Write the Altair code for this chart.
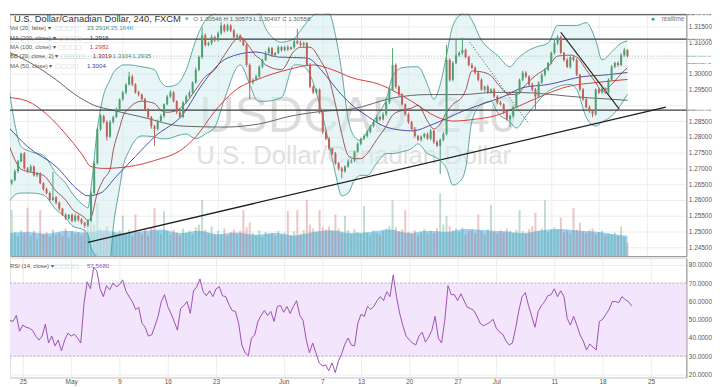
import altair as alt
import pandas as pd

FONT = "Liberation Sans"

# ---------------- data (8-hour candles, bar 0 = Apr 25) ----------------
first_bar = -6
first_open = 1.2645
closes = [
    1.2653, 1.2663, 1.2691, 1.2722, 1.2747, 1.2700,
    1.2691, 1.2706, 1.2678, 1.2684, 1.2653, 1.2634, 1.2622, 1.2600, 1.2609, 1.2591,
    1.2572, 1.2553, 1.2541, 1.2553, 1.2534, 1.2550, 1.2538, 1.2528, 1.2519, 1.2534,
    1.2622, 1.2716, 1.2825, 1.2866, 1.2847, 1.2800, 1.2847, 1.2863, 1.2888, 1.2919,
    1.2941, 1.2966, 1.2991, 1.2966, 1.2941, 1.2934, 1.2919, 1.2888, 1.2863, 1.2834,
    1.2825, 1.2850, 1.2866, 1.2903, 1.2928, 1.2941, 1.2913, 1.2878, 1.2863, 1.2909,
    1.2928, 1.2941, 1.2972, 1.3013, 1.3053, 1.3122, 1.3091, 1.3097, 1.3116, 1.3106,
    1.3128, 1.3153, 1.3137, 1.3153, 1.3137, 1.3116, 1.3122, 1.3106, 1.3091, 1.3028,
    1.2972, 1.2981, 1.2991, 1.3022, 1.3044, 1.3066, 1.3081, 1.3059, 1.3066, 1.3084,
    1.3075, 1.3084, 1.3078, 1.3084, 1.3103, 1.3097, 1.3091, 1.3097, 1.3028, 1.2959,
    1.2941, 1.2950, 1.2878, 1.2816, 1.2794, 1.2763, 1.2747, 1.2716, 1.2700, 1.2691,
    1.2706, 1.2722, 1.2725, 1.2753, 1.2778, 1.2794, 1.2803, 1.2816, 1.2834, 1.2847,
    1.2863, 1.2856, 1.2872, 1.2909, 1.2950, 1.3028, 1.2959, 1.2934, 1.2903, 1.2872,
    1.2847, 1.2825, 1.2803, 1.2791, 1.2800, 1.2809, 1.2794, 1.2819, 1.2784, 1.2772,
    1.2791, 1.2809, 1.3044, 1.2981, 1.3034, 1.3059, 1.3066, 1.3075, 1.3053, 1.3028,
    1.3019, 1.3003, 1.2981, 1.2950, 1.2959, 1.2941, 1.2950, 1.2928, 1.2909, 1.2903,
    1.2878, 1.2856, 1.2866, 1.2894, 1.2941, 1.2981, 1.3003, 1.2991, 1.2966, 1.2950,
    1.2928, 1.2972, 1.2997, 1.3013, 1.3034, 1.3066, 1.3097, 1.3116, 1.3066, 1.3044,
    1.3022, 1.3053, 1.3044, 1.2997, 1.2950, 1.2919, 1.2894, 1.2881, 1.2872, 1.2950,
    1.2941, 1.2953, 1.2941, 1.2981, 1.3022, 1.3034, 1.3028, 1.3059, 1.3075, 1.30558,
]
up_wick_pips = [
    4, 3, 6, 5, 3, 5,
    4, 6, 3, 5, 4, 3, 5, 4, 80, 3,
    4, 3, 5, 2, 4, 6, 3, 4, 3, 5,
    6, 8, 5, 7, 4, 5, 6, 4, 5, 3,
    5, 4, 15, 6, 4, 5, 3, 5, 4, 3,
    4, 5, 6, 3, 5, 7, 4, 3, 5, 4,
    5, 6, 4, 7, 5, 25, 6, 5, 8, 4,
    6, 10, 5, 6, 4, 5, 6, 3, 5, 4,
    5, 4, 6, 5, 4, 6, 5, 4, 3, 6,
    4, 5, 6, 3, 5, 40, 8, 5, 4, 6,
    5, 4, 3, 5, 4, 6, 3, 5, 4, 5,
    4, 6, 5, 3, 5, 4, 6, 5, 4, 3,
    5, 4, 6, 5, 7, 53, 5, 4, 6, 3,
    5, 4, 6, 3, 5, 4, 5, 6, 3, 5,
    4, 6, 47, 5, 6, 50, 5, 40, 5, 4,
    6, 5, 4, 5, 3, 6, 4, 5, 4, 5,
    3, 5, 4, 6, 5, 4, 7, 5, 4, 6,
    5, 4, 6, 5, 4, 5, 13, 6, 5, 4,
    6, 5, 4, 5, 3, 5, 4, 6, 5, 4,
    5, 6, 4, 5, 6, 4, 5, 6, 7, 3,
]
dn_wick_pips = [
    3, 5, 4, 6, 3, 4,
    5, 3, 4, 6, 3, 5, 4, 6, 3, 5,
    6, 4, 5, 3, 5, 4, 6, 5, 7, 4,
    3, 5, 4, 6, 5, 12, 4, 5, 3, 5,
    4, 6, 3, 5, 4, 6, 5, 4, 6, 8,
    53, 5, 4, 6, 3, 5, 4, 6, 5, 4,
    3, 5, 6, 4, 5, 6, 5, 4, 6, 5,
    4, 5, 6, 3, 5, 4, 6, 5, 4, 6,
    53, 5, 4, 6, 5, 4, 3, 6, 5, 4,
    5, 4, 6, 3, 5, 4, 5, 6, 4, 5,
    6, 4, 5, 7, 4, 6, 5, 4, 6, 22,
    5, 4, 6, 5, 3, 5, 4, 6, 5, 4,
    3, 5, 4, 6, 5, 4, 6, 5, 4, 5,
    6, 4, 5, 4, 6, 5, 4, 5, 6, 4,
    90, 5, 4, 6, 5, 4, 5, 6, 4, 5,
    4, 6, 5, 4, 6, 5, 4, 5, 6, 4,
    5, 4, 25, 5, 4, 6, 5, 4, 5, 6,
    45, 5, 4, 6, 5, 4, 5, 6, 4, 5,
    4, 6, 5, 4, 6, 5, 4, 5, 10, 6,
    5, 4, 6, 5, 4, 5, 6, 4, 5, 4,
]
volume_k = [
    38, 80, 42, 35, 45, 40,
    84, 36, 44, 30, 80, 38, 42, 33, 46, 37,
    40, 35, 48, 32, 44, 38, 41, 36, 47, 52,
    60, 55, 92, 48, 40, 52, 38, 44, 36, 45,
    70, 40, 46, 35, 72, 42, 38, 47, 36, 50,
    84, 43, 39, 78, 44, 37, 46, 41, 35, 48,
    40, 45, 38, 50, 55, 97, 46, 40, 52, 37,
    44, 39, 48, 35, 42, 46, 38, 44, 80, 50,
    58, 40, 36, 45, 33, 42, 38, 40, 35, 44,
    37, 41, 78, 36, 43, 80, 39, 45, 97, 55,
    48, 42, 80, 50, 46, 52, 44, 72, 48, 40,
    70, 45, 38, 47, 42, 39, 87, 41, 36, 45,
    40, 37, 44, 48, 52, 97, 50, 43, 46, 80,
    42, 38, 45, 36, 41, 47, 39, 44, 40, 48,
    109, 55, 70, 52, 45, 48, 42, 50, 38, 44,
    46, 40, 72, 43, 38, 47, 89, 42, 39, 45,
    41, 48, 44, 40, 46, 80, 43, 39, 47, 52,
    75, 44, 48, 97, 42, 46, 50, 45, 67, 41,
    44, 39, 84, 46, 58, 43, 40, 45, 48, 38,
    42, 44, 36, 40, 38, 41, 35, 51, 33, 23.291,
]
rsi_values = [
    43.7, 46.4, 49.6, 49.0, 52.3, 43.6,
    47.0, 45.8, 45.3, 44.2, 41.0, 38.8, 41.0, 47.5, 37.2, 41.0,
    35.6, 38.8, 32.9, 38.8, 42.6, 41.0, 42.0, 39.9, 37.2, 58.8,
    70.7, 66.9, 78.8, 76.7, 66.9, 62.6, 68.6, 66.4, 70.1, 68.0,
    69.1, 71.8, 65.8, 62.6, 59.9, 55.6, 56.7, 48.0, 45.8, 41.0,
    41.6, 46.4, 51.8, 59.9, 63.7, 57.2, 53.4, 49.0, 44.2, 56.1,
    57.7, 59.9, 53.4, 65.8, 68.0, 72.3, 65.3, 63.1, 65.8, 62.6,
    66.9, 68.0, 63.1, 62.6, 58.3, 55.0, 54.5, 48.0, 36.1, 31.8,
    30.2, 39.9, 41.6, 49.0, 52.3, 55.0, 52.3, 54.5, 49.0, 57.2,
    57.7, 54.0, 57.2, 53.4, 57.2, 60.4, 52.3, 49.6, 38.8, 31.8,
    37.2, 31.8, 26.3, 24.7, 25.2, 22.0, 26.3, 21.0, 27.4, 31.3,
    36.6, 39.9, 36.1, 35.6, 48.0, 52.9, 51.8, 57.2, 55.6, 57.2,
    60.4, 62.6, 60.4, 65.3, 62.6, 74.5, 62.6, 53.4, 46.6, 41.0,
    38.8, 37.2, 36.1, 41.0, 43.1, 37.7, 40.4, 44.2, 51.8, 39.9,
    37.2, 49.6, 68.6, 63.7, 63.7, 60.4, 64.2, 60.4, 56.7, 56.1,
    55.0, 51.8, 48.0, 46.6, 47.5, 48.5, 50.2, 45.3, 43.1, 42.0,
    38.3, 36.1, 37.2, 45.3, 55.0, 62.6, 64.8, 57.7, 51.8, 45.8,
    54.5, 57.7, 59.9, 63.1, 63.7, 66.9, 62.6, 65.8, 62.6, 50.7,
    47.0, 51.8, 47.0, 41.6, 38.3, 33.4, 36.6, 35.0, 33.4, 49.0,
    50.2, 52.9, 55.6, 59.9, 59.9, 59.3, 62.6, 61.0, 59.9, 57.568,
]

# Bollinger Bands (20, close, 2), read at selected bars
bb_bars = [-6, -4, -2, 1, 5, 9, 12, 14, 18, 19, 20, 22, 24, 26, 27, 29, 30, 32, 36, 40,
           42, 44, 47, 50, 53, 56, 59, 62, 67, 70, 72, 73, 75, 80, 84, 86, 89, 92, 95, 97,
           99, 101, 103, 105, 107, 110, 113, 115, 118, 121, 123, 126, 128, 130, 132, 134, 137, 138, 140, 143,
           146, 148, 152, 154, 157, 160, 164, 167, 171, 173, 176, 179, 181, 184, 187, 189]
bb_upper = [1.2966, 1.2841, 1.2769, 1.2753, 1.2741, 1.2684, 1.2653, 1.2622, 1.2581, 1.2575,
            1.2638, 1.2825, 1.2934, 1.2981, 1.3003, 1.3022, 1.3028, 1.3028, 1.3022, 1.3013,
            1.2975, 1.2959, 1.2966, 1.3013, 1.3106, 1.3169, 1.3191, 1.3203, 1.3206, 1.3200,
            1.3194, 1.3191, 1.3144, 1.3100, 1.3112, 1.3137, 1.3175, 1.3194, 1.3191, 1.3122,
            1.3006, 1.2856, 1.2800, 1.2788, 1.2816, 1.2866, 1.2919, 1.2991, 1.3019, 1.3022,
            1.3022, 1.2966, 1.2919, 1.2966, 1.3059, 1.3153, 1.3191, 1.3194, 1.3169, 1.3106,
            1.3075, 1.3059, 1.3022, 1.3044, 1.3069, 1.3084, 1.3097, 1.3153, 1.3153, 1.3153,
            1.3162, 1.3106, 1.3044, 1.3069, 1.3097, 1.3104]
bb_lower = [1.2591, 1.2616, 1.2622, 1.2622, 1.2616, 1.2569, 1.2544, 1.2519, 1.2503, 1.2491,
            1.2450, 1.2419, 1.2397, 1.2409, 1.2513, 1.2638, 1.2700, 1.2756, 1.2803, 1.2800,
            1.2794, 1.2794, 1.2803, 1.2809, 1.2794, 1.2809, 1.2831, 1.2919, 1.3028, 1.2966,
            1.2919, 1.2913, 1.2913, 1.2925, 1.3028, 1.3028, 1.2997, 1.2903, 1.2778, 1.2684,
            1.2613, 1.2622, 1.2663, 1.2678, 1.2678, 1.2716, 1.2747, 1.2747, 1.2753, 1.2763,
            1.2778, 1.2747, 1.2738, 1.2725, 1.2700, 1.2647, 1.2669, 1.2700, 1.2850, 1.2903,
            1.2913, 1.2878, 1.2847, 1.2828, 1.2866, 1.2903, 1.2944, 1.2959, 1.2966, 1.2950,
            1.2863, 1.2834, 1.2847, 1.2866, 1.2903, 1.2935]
bb_basis = [1.2778, 1.2728, 1.2697, 1.2688, 1.2678, 1.2628, 1.2600, 1.2572, 1.2544, 1.2534,
            1.2544, 1.2622, 1.2666, 1.2697, 1.2756, 1.2828, 1.2863, 1.2891, 1.2913, 1.2906,
            1.2884, 1.2878, 1.2884, 1.2909, 1.2950, 1.2991, 1.3013, 1.3059, 1.3116, 1.3084,
            1.3056, 1.3050, 1.3028, 1.3013, 1.3072, 1.3084, 1.3084, 1.3047, 1.2984, 1.2903,
            1.2809, 1.2741, 1.2731, 1.2731, 1.2747, 1.2791, 1.2834, 1.2869, 1.2884, 1.2891,
            1.2900, 1.2850, 1.2825, 1.2841, 1.2878, 1.2903, 1.2928, 1.2947, 1.3009, 1.3006,
            1.2994, 1.2969, 1.2934, 1.2934, 1.2966, 1.2994, 1.3022, 1.3056, 1.3059, 1.3053,
            1.3013, 1.2972, 1.2944, 1.2966, 1.3000, 1.3019]

ma200_bars = [-6, 1, 9, 15, 21, 27, 36, 49, 62, 73, 83, 93, 102, 116, 126, 137, 147, 154, 175, 189]
ma200_vals = [1.3069, 1.3034, 1.2981, 1.2934, 1.2900, 1.2884, 1.2863, 1.2834, 1.2831, 1.2841,
              1.2866, 1.2881, 1.2888, 1.2925, 1.2934, 1.2934, 1.2941, 1.2941, 1.2925, 1.2916]
ma100_bars = [-6, 0, 6, 12, 17, 20, 24, 32, 40, 49, 53, 59, 65, 74, 82, 90, 96, 102, 111, 121,
              129, 134, 141, 147, 156, 163, 170, 179, 189]
ma100_vals = [1.2925, 1.2913, 1.2872, 1.2809, 1.2747, 1.2706, 1.2700, 1.2706, 1.2725, 1.2763,
              1.2800, 1.2881, 1.2944, 1.2988, 1.3013, 1.3028, 1.3013, 1.2988, 1.2966, 1.2913,
              1.2863, 1.2850, 1.2856, 1.2866, 1.2903, 1.2934, 1.2959, 1.2972, 1.2982]
ma50_bars = [-6, 0, 9, 16, 19, 23, 28, 34, 40, 49, 55, 63, 72, 79, 88, 93, 98, 102, 107, 113,
             121, 128, 137, 143, 150, 156, 164, 175, 183, 189]
ma50_vals = [1.2831, 1.2769, 1.2706, 1.2631, 1.2613, 1.2622, 1.2675, 1.2738, 1.2800, 1.2872,
             1.2966, 1.3050, 1.3069, 1.3053, 1.3050, 1.3006, 1.2944, 1.2903, 1.2866, 1.2831,
             1.2819, 1.2841, 1.2881, 1.2903, 1.2928, 1.2956, 1.2966, 1.2991, 1.2997, 1.3004]

volma_bars = [-6, 0, 6, 12, 18, 24, 30, 36, 42, 48, 54, 60, 66, 72, 78, 84, 90, 96, 102, 108,
              114, 120, 126, 132, 138, 144, 150, 156, 162, 168, 174, 180, 186, 189]
volma_vals = [40, 42, 39, 44, 41, 45, 40, 43, 46, 40, 44, 38, 41, 37, 40, 36, 42, 45, 40, 42,
              46, 40, 44, 42, 47, 45, 43, 40, 45, 47, 44, 42, 37, 35.164]

# drawn levels and trend lines
level_prices = [1.31870, 1.31095, 1.28848]
current_price = 1.30558
trend_names = ["rise", "rise", "fall", "fall", "dots", "dots"]
trend_bars = [19.0, 201.1, 168.0, 186.4, 139.3, 157.9]
trend_prices = [1.2466, 1.2894, 1.3131, 1.2888, 1.3100, 1.2841]

tick_bars = [0, 15, 30, 45, 60, 81, 93, 105, 120, 135, 147, 165, 180, 195]
tick_labels = ["25", "May", "9", "16", "23", "Jun", "7", "13", "20", "27", "Jul", "11", "18", "25"]
price_ticks = [1.245, 1.250, 1.255, 1.260, 1.265, 1.270, 1.275, 1.280, 1.285, 1.290,
               1.295, 1.300, 1.305, 1.310, 1.315]
hidden_price_labels = [1.290, 1.305]   # covered by the price tags in the reference
rsi_ticks = [20, 30, 40, 50, 60, 70, 80]

# ---------------- tables ----------------
n = len(closes)
assert len(up_wick_pips) == n and len(dn_wick_pips) == n and len(volume_k) == n and len(rsi_values) == n
assert len(bb_bars) == len(bb_upper) == len(bb_lower) == len(bb_basis)
assert len(ma200_bars) == len(ma200_vals) and len(ma100_bars) == len(ma100_vals)
assert len(ma50_bars) == len(ma50_vals) and len(volma_bars) == len(volma_vals)

bars = list(range(first_bar, first_bar + n))
opens = [first_open] + closes[:-1]
highs = [max(o, c) + u / 10000 for o, c, u in zip(opens, closes, up_wick_pips)]
lows = [min(o, c) - d / 10000 for o, c, d in zip(opens, closes, dn_wick_pips)]
direction = ["up" if c >= o else "down" for o, c in zip(opens, closes)]
candles = pd.DataFrame(dict(bar=bars, open=opens, close=closes, high=highs, low=lows,
                            dir=direction, vol=volume_k))
bb = pd.DataFrame(dict(bar=bb_bars, upper=bb_upper, lower=bb_lower, basis=bb_basis))
rsi_df = pd.DataFrame(dict(bar=bars, rsi=rsi_values))
volma = pd.DataFrame(dict(bar=volma_bars, v=volma_vals))
trends = pd.DataFrame(dict(name=trend_names, bar=trend_bars, price=trend_prices))

# ---------------- layout ----------------
W, H1, H2 = 686, 246, 121
X_DOMAIN = [-3.98, 206.0]
PRICE_DOMAIN = [1.24219, 1.31906]
RSI_DOMAIN = [18.3, 83.7]
GRID = "#ededed"

x_scale = alt.Scale(domain=X_DOMAIN, nice=False, zero=False)
x_axis_top = alt.Axis(values=tick_bars, labels=False, ticks=False, domain=True,
                      domainColor="#8c8c8c", grid=True, gridColor=GRID, title=None)


def label_expr(bs, ls):
    expr = "''"
    for b, l in reversed(list(zip(bs, ls))):
        expr = f"datum.value == {b} ? '{l}' : {expr}"
    return expr


hide_cond = " || ".join(f"abs(datum.value - {h}) < 0.000001" for h in hidden_price_labels)
price_label_expr = f"({hide_cond}) ? '' : format(datum.value, '.5f')"

x_axis_bottom = alt.Axis(values=tick_bars, labelExpr=label_expr(tick_bars, tick_labels),
                         labelFontSize=6.5, labelColor="#555555", labelPadding=1, ticks=False,
                         domain=True, domainColor="#cfcfcf",
                         grid=True, gridColor=GRID, title=None, labelFlush=False)
price_axis = alt.Axis(orient="right", values=price_ticks, labelExpr=price_label_expr,
                      labelFontSize=6.5, labelColor="#555555", labelPadding=2, ticks=False,
                      domain=True, domainColor="#8c8c8c", grid=True, gridColor=GRID, title=None)
rsi_axis = alt.Axis(orient="right", values=rsi_ticks, format=".4f", labelFontSize=6.5,
                    labelColor="#555555", labelPadding=2, ticks=False, domain=True,
                    domainColor="#8c8c8c", grid=True, gridColor=GRID, title=None)
price_scale = alt.Scale(domain=PRICE_DOMAIN, nice=False, zero=False)
rsi_scale = alt.Scale(domain=RSI_DOMAIN, nice=False, zero=False)

XT = alt.X("bar:Q", scale=x_scale, axis=x_axis_top)
XB = alt.X("bar:Q", scale=x_scale, axis=x_axis_bottom)


def YP(field):
    return alt.Y(f"{field}:Q", scale=price_scale, axis=price_axis)


def YR(field):
    return alt.Y(f"{field}:Q", scale=rsi_scale, axis=rsi_axis)


ONE = pd.DataFrame({"k": [0]})


def txt(t, x, y, color="#555555", size=6.0, align="left", baseline="middle",
        weight="normal", font=FONT, opacity=1.0):
    return alt.Chart(ONE).mark_text(align=align, baseline=baseline, fontSize=size, font=font,
                                    fontWeight=weight, color=color, opacity=opacity).encode(
        x=alt.value(x), y=alt.value(y), text=alt.value(t))


def curve(bs, vals, color, width):
    df = pd.DataFrame({"bar": bs, "v": vals})
    return alt.Chart(df).mark_line(color=color, strokeWidth=width, interpolate="monotone",
                                   clip=True).encode(x=XT, y=YP("v"))


# volume (own scale)
vol_scale = alt.Scale(domain=[0, 420], nice=False)
vol_area = alt.Chart(volma).mark_area(color="#86c9ee", opacity=0.85, interpolate="monotone",
                                      clip=True).encode(
    x=XT, y=alt.Y("v:Q", scale=vol_scale, axis=None))
vol_bars = alt.Chart(candles).mark_bar(size=2, opacity=0.35, clip=True).encode(
    x=XT, y=alt.Y("vol:Q", scale=vol_scale, axis=None),
    color=alt.Color("dir:N", scale=alt.Scale(domain=["up", "down"], range=["#4f9f72", "#c0605a"]),
                    legend=None))
vol_layer = alt.layer(vol_area, vol_bars)

# price layers
watermark1 = txt("USDCAD, 240", 192, 120, color="#dcdcdc", size=50, baseline="alphabetic")
watermark2 = txt("U.S. Dollar/Canadian Dollar", 189, 153, color="#e0e0e0", size=26,
                 baseline="alphabetic")

bb_fill = alt.Chart(bb).mark_area(color="#d3ecee", opacity=0.55, interpolate="monotone",
                                  clip=True).encode(x=XT, y=YP("upper"), y2=alt.Y2("lower"))
bb_up_line = curve(bb_bars, bb_upper, "#4a9e95", 0.9)
bb_lo_line = curve(bb_bars, bb_lower, "#4a9e95", 0.9)
bb_mid_line = curve(bb_bars, bb_basis, "#8b2f2f", 0.8)
ma200_line = curve(ma200_bars, ma200_vals, "#555555", 0.9)
ma100_line = curve(ma100_bars, ma100_vals, "#d63c3c", 1.0)
ma50_line = curve(ma50_bars, ma50_vals, "#3b3b9e", 0.9)

levels = alt.Chart(pd.DataFrame({"p": level_prices, "w": [1.0, 1.3, 1.3]})).mark_rule(
    color="#3a3a3a").encode(y=YP("p"), strokeWidth=alt.StrokeWidth("w:Q", scale=None))
current = alt.Chart(pd.DataFrame({"p": [current_price]})).mark_rule(
    color="#8db8a2", strokeDash=[1, 2], strokeWidth=1).encode(y=YP("p"))

trend_rise = alt.Chart(trends).transform_filter("datum.name == 'rise'").mark_line(
    color="#1e1e1e", strokeWidth=1.3, clip=True).encode(x=XT, y=YP("price"))
trend_fall = alt.Chart(trends).transform_filter("datum.name == 'fall'").mark_line(
    color="#2a2a2a", strokeWidth=1.2, clip=True).encode(x=XT, y=YP("price"))
trend_dots = alt.Chart(trends).transform_filter("datum.name == 'dots'").mark_line(
    color="#444444", strokeWidth=1, strokeDash=[1, 2], clip=True).encode(x=XT, y=YP("price"))

wicks = alt.Chart(candles).mark_rule(strokeWidth=1, clip=True).encode(
    x=XT, y=YP("low"), y2=alt.Y2("high"),
    color=alt.Color("dir:N", scale=alt.Scale(domain=["up", "down"], range=["#2f5e40", "#6b241b"]),
                    legend=None))
bodies = alt.Chart(candles).mark_bar(size=2, clip=True).encode(
    x=XT, y=YP("open"), y2=alt.Y2("close"),
    color=alt.Color("dir:N", scale=alt.Scale(domain=["up", "down"], range=["#4f9a6c", "#b0473a"]),
                    legend=None))

# right-hand price tags
HALF = 0.00011
tag_labels = ["1.31870", "1.31095", "1.30558", "2:23:34", "1.28848"]
tag_prices = [1.31870, 1.31095, 1.30558, 1.30330, 1.28848]
tag_fills = ["#3b3b3b", "#3b3b3b", "#5c9e80", "#5c9e80", "#3b3b3b"]
tag_mid = [min(p, PRICE_DOMAIN[1] - HALF) for p in tag_prices]
tags = pd.DataFrame(dict(label=tag_labels, mid=tag_mid, hi=[m + HALF for m in tag_mid],
                         lo=[m - HALF for m in tag_mid], fill=tag_fills))
tag_box = alt.Chart(tags).mark_rect().encode(
    x=alt.value(W + 1), x2=alt.value(W + 25), y=YP("hi"), y2=alt.Y2("lo"),
    color=alt.Color("fill:N", scale=None))
tag_text = alt.Chart(tags).mark_text(color="white", fontSize=5.8, font=FONT, align="center",
                                     baseline="middle").encode(
    x=alt.value(W + 13), y=YP("mid"), text="label:N")

ICONS = "\u25a2\u25a2\u25a2\u25a2"
legend = [
    txt("U.S. Dollar/Canadian Dollar, 240, FXCM", 4, 5, color="#333333", size=9.5),
    txt("\u25be", 178, 5, color="#999999", size=7),
    txt("O 1.30546  H 1.30573  L 1.30497  C 1.30558", 186, 5, color="#666666", size=6.2),
    txt("\u25cf", 650, 5, color="#3a9a6a", size=7),
    txt("realtime", 684, 5, color="#777777", size=6.5, align="right"),
    txt("Vol (20, false) \u25be", 0, 15),
    txt(ICONS, 46, 15, color="#c8c8c8", size=6.5),
    txt("23.291K", 78, 15, color="#3c8d5c", size=6.3),
    txt("35.164K", 102, 15, color="#3b9bd6", size=6.3),
    txt("MA (200, close) \u25be", 0, 24.5),
    txt(ICONS, 49, 24.5, color="#c8c8c8", size=6.5),
    txt("1.2916", 81, 24.5, color="#333333", size=6.3),
    txt("MA (100, close) \u25be", 0, 34),
    txt(ICONS, 49, 34, color="#c8c8c8", size=6.5),
    txt("1.2982", 81, 34, color="#d63c3c", size=6.3),
    txt("BB (20, close, 2) \u25be", 0, 43.5),
    txt(ICONS, 52, 43.5, color="#c8c8c8", size=6.5),
    txt("1.3019", 84, 43.5, color="#8b2f2f", size=6.3),
    txt("1.3104", 104, 43.5, color="#3f8f86", size=6.3),
    txt("1.2935", 124, 43.5, color="#3f8f86", size=6.3),
    txt("MA (50, close) \u25be", 0, 53),
    txt(ICONS, 46, 53, color="#c8c8c8", size=6.5),
    txt("1.3004", 78, 53, color="#3b3b9e", size=6.3),
]

price_layer = alt.layer(
    watermark1, watermark2, bb_fill, bb_up_line, bb_lo_line, ma200_line, ma100_line, ma50_line,
    bb_mid_line, levels, current, trend_rise, trend_fall, trend_dots, wicks, bodies,
    tag_box, tag_text, *legend)

price_chart = alt.layer(vol_layer, price_layer).resolve_scale(y="independent").properties(
    width=W, height=H1)

# RSI panel
rsi_band = alt.Chart(pd.DataFrame({"lo": [30], "hi": [70]})).mark_rect(color="#f3e5fb").encode(
    y=YR("hi"), y2=alt.Y2("lo"))
rsi_rules = alt.Chart(pd.DataFrame({"lvl": [30, 70]})).mark_rule(
    color="#a8a0ae", strokeDash=[2, 2], strokeWidth=0.8).encode(y=YR("lvl"))
rsi_line = alt.Chart(rsi_df).mark_line(color="#9a4fb4", strokeWidth=1, clip=True).encode(
    x=XB, y=YR("rsi"))
rsi_legend = [
    txt("RSI (14, close) \u25be", 0, 8),
    txt(ICONS, 46, 8, color="#c8c8c8", size=6.5),
    txt("57.5680", 78, 8, color="#9a4fb4", size=6.3),
]
rsi_chart = alt.layer(rsi_band, rsi_rules, rsi_line, *rsi_legend).properties(width=W, height=H2)

chart = alt.vconcat(price_chart, rsi_chart, spacing=0).properties(
    padding={"left": 0, "top": 0, "right": 0, "bottom": 0}, background="white"
).configure_view(stroke=None).configure(font=FONT)

chart.save("out.html", embed_options={"renderer": "svg", "actions": False})
